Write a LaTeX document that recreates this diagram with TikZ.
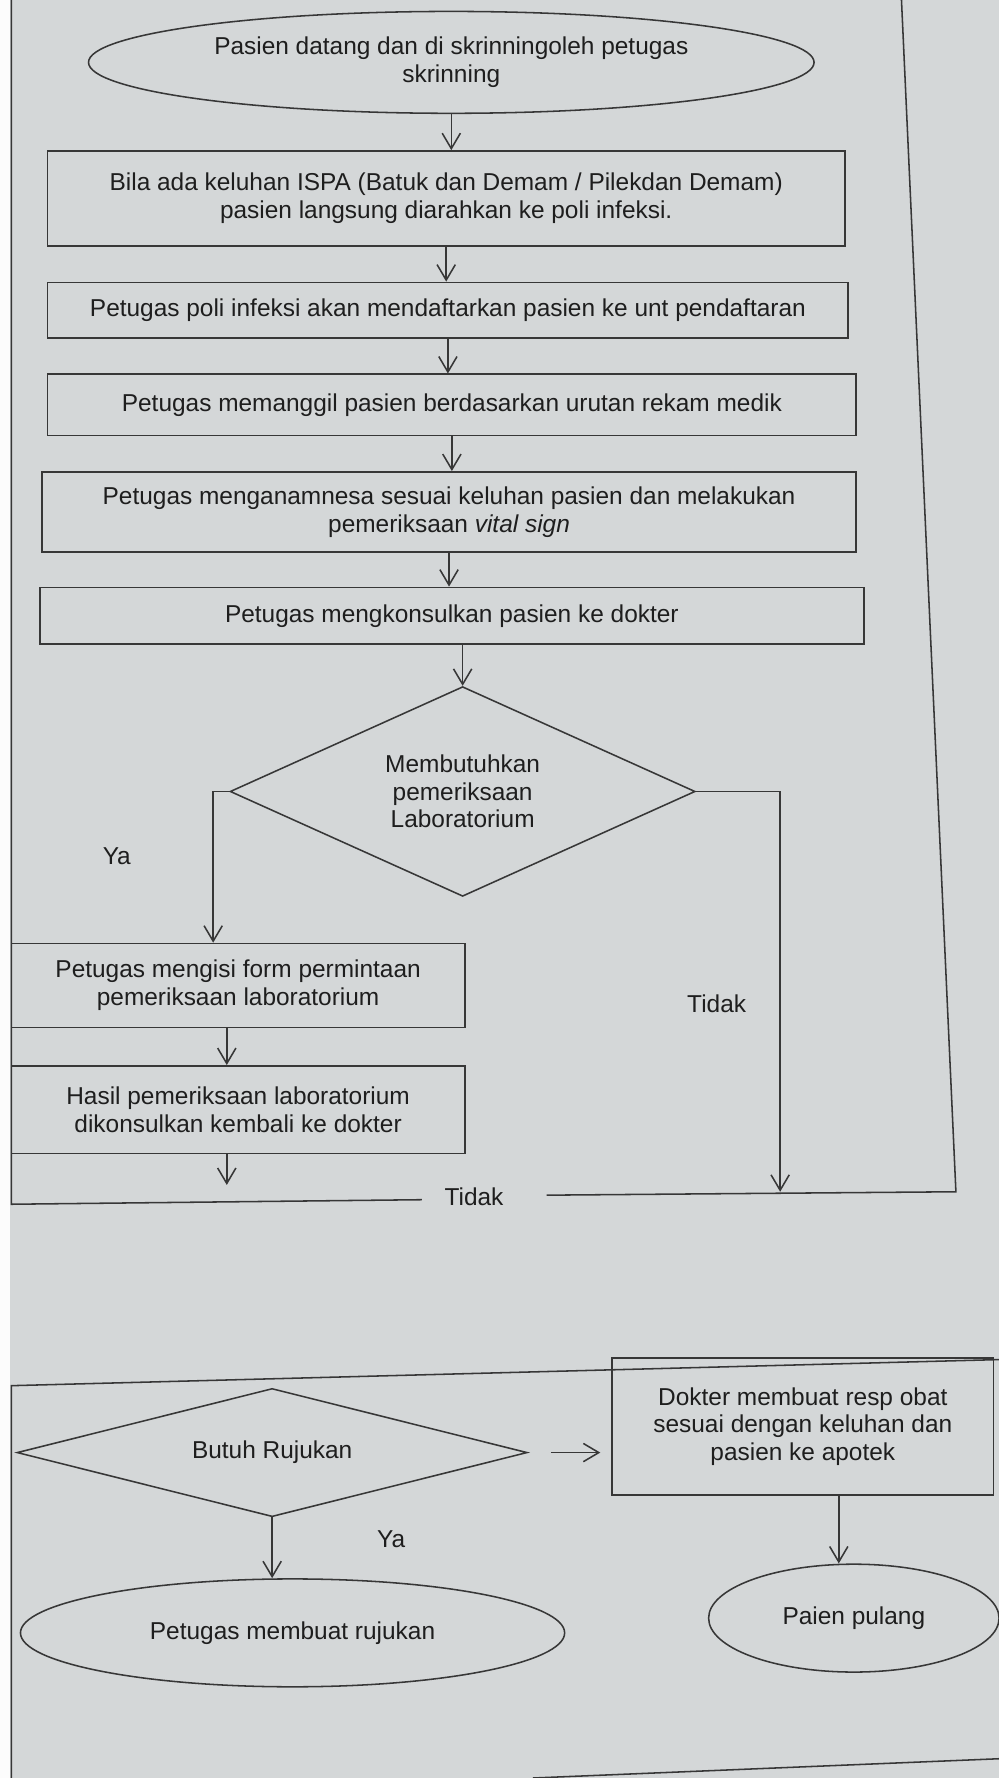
\documentclass[tikz,border=0pt]{standalone}
\usepackage{fontspec}
\setmainfont{Liberation Sans}
\usepackage{tikz}
\usetikzlibrary{shapes.geometric}
\usetikzlibrary{arrows.meta}
\usepackage{xcolor}
\definecolor{paper}{RGB}{212,215,216}
\definecolor{ink}{RGB}{55,55,55}
\definecolor{tinta}{RGB}{30,30,30}

\begin{document}
\begin{tikzpicture}[x=0.02838cm, y=-0.02838cm, line width=1.1pt, color=ink, text=tinta,
  font=\fontsize{17.4}{19.6}\selectfont,
  >={Straight Barb[length=11pt,width=13pt]},
  box/.style={draw, rectangle, inner sep=0pt, align=center},
  oval/.style={draw, ellipse, inner sep=0pt, align=center},
  decide/.style={draw, diamond, inner sep=0pt, align=center},
  ]
\fill[paper] (0,0) rectangle (881,1568);
\fill[white!92!paper] (0,0) rectangle (9,1568);
\useasboundingbox (0,0) rectangle (881,1568);

% halaman atas
\node[oval, minimum width=18.16cm, minimum height=2.55cm] (start) at (398,55) {Pasien datang dan di skrinningoleh petugas\\skrinning};
\node[box, minimum width=19.95cm, minimum height=2.38cm] (lapor) at (393.5,175) {Bila ada keluhan ISPA (Batuk dan Demam / Pilekdan Demam)\\pasien langsung diarahkan ke poli infeksi.};
\node[box, minimum width=20.04cm, minimum height=1.39cm] (daftar) at (395,273.5) {Petugas poli infeksi akan mendaftarkan pasien ke unt pendaftaran};
\node[box, minimum width=20.24cm, minimum height=1.53cm] (panggil) at (398.5,357) {Petugas memanggil pasien berdasarkan urutan rekam medik};
\node[box, minimum width=20.38cm, minimum height=2.01cm] (anamnesa) at (396,451.5) {Petugas menganamnesa sesuai keluhan pasien dan melakukan\\pemeriksaan \textit{vital sign}};
\node[box, minimum width=20.63cm, minimum height=1.42cm] (konsul) at (398.5,543) {Petugas mengkonsulkan pasien ke dokter};
\node[decide, aspect=2.2, minimum width=11.64cm, minimum height=5.25cm] (cekLab) at (408,698) {Membutuhkan\\pemeriksaan\\Laboratorium};
\node[box, minimum width=11.35cm, minimum height=2.10cm] (formLab) at (210,869) {Petugas mengisi form permintaan\\pemeriksaan laboratorium};
\node[box, minimum width=11.35cm, minimum height=2.19cm] (hasilLab) at (210,978.5) {Hasil pemeriksaan laboratorium\\dikonsulkan kembali ke dokter};
\node (ya1) at (103,755) {Ya};
\node (tidak1) at (632,885) {Tidak};
\node (tidak2) at (418,1055) {Tidak};

\coordinate (yaTurn) at (188,698);
\coordinate (noTurn) at (688,698);
\coordinate (labX) at (200,0);
\coordinate (labEnd) at (200,1045);
\coordinate (frameTL) at (10,0);
\coordinate (baseL) at (10,1062);
\coordinate (gapL) at (372,1058);
\coordinate (gapR) at (482,1054);
\coordinate (baseR) at (843,1051);
\coordinate (frameTR) at (795,0);

\draw[->] (start.south) -- (start.south |- lapor.north);
\draw[->] (lapor.south) -- (lapor.south |- daftar.north);
\draw[->] (daftar.south) -- (daftar.south |- panggil.north);
\draw[->] (panggil.south) -- (panggil.south |- anamnesa.north);
\draw[->] (anamnesa.south) -- (anamnesa.south |- konsul.north);
\draw[->] (konsul.south -| cekLab.north) -- (cekLab.north);
\draw[->] (cekLab.west) -- (yaTurn) -- (yaTurn |- formLab.north);
\draw[->] (cekLab.east) -- (noTurn) -- (noTurn |- baseR);
\draw[->] (labX |- formLab.south) -- (labX |- hasilLab.north);
\draw[->] (labX |- hasilLab.south) -- (labEnd);
\draw (frameTL) -- (baseL) -- (gapL);
\draw (gapR) -- (baseR) -- (frameTR);

% halaman bawah
\coordinate (secTL) at (10,1222);
\coordinate (secTR) at (881,1199);
\coordinate (secBL) at (10,1568);
\coordinate (secB1) at (470,1568);
\coordinate (secBR) at (881,1551);
\draw (secTR) -- (secTL) -- (secBL);
\draw (secB1) -- (secBR);

\node[decide, aspect=4, minimum width=12.77cm, minimum height=3.21cm] (rujuk) at (240,1281) {Butuh Rujukan};
\node[box, minimum width=9.54cm, minimum height=3.43cm] (resep) at (708,1258) {Dokter membuat resp obat\\sesuai dengan keluhan dan\\pasien ke apotek};
\node[oval, minimum width=13.62cm, minimum height=2.70cm] (buatRujuk) at (258,1440) {Petugas membuat rujukan};
\node[oval, minimum width=7.27cm, minimum height=2.70cm] (pulang) at (753,1427) {Paien pulang};
\node (ya2) at (345,1357) {Ya};

\draw[->] ([xshift=0.57cm]rujuk.east) -- ([xshift=-0.28cm]rujuk.east -| resep.west);
\draw[->] (rujuk.south) -- (rujuk.south |- buatRujuk.north);
\draw[->] ([xshift=0.9cm]resep.south) -- ([xshift=0.9cm]resep.south |- pulang.north);
\end{tikzpicture}
\end{document}
